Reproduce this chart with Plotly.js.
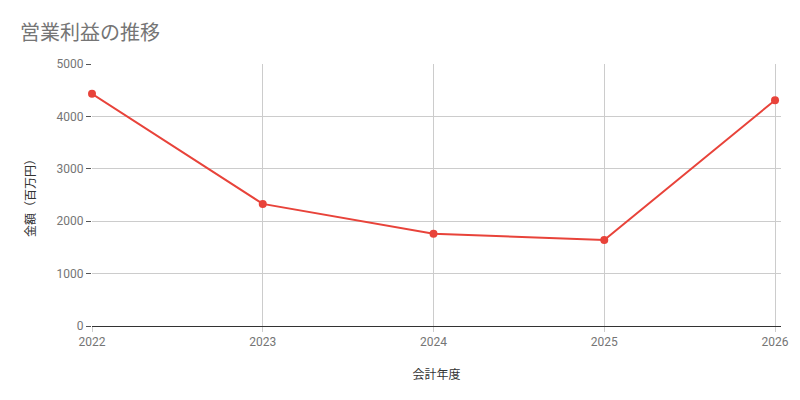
<!DOCTYPE html>
<html>
<head>
<meta charset="utf-8">
<script src="https://cdn.plot.ly/plotly-3.0.1.min.js"></script>
<style>
  html, body { margin: 0; padding: 0; background: #fff; }
  #chart { width: 800px; height: 400px; }
</style>
</head>
<body>
<div id="chart"></div>
<script>
var years = [2022, 2023, 2024, 2025, 2026];
var profit = [4430, 2330, 1760, 1640, 4310];
var yTicks = [0, 1000, 2000, 3000, 4000, 5000];

var trace = {
  x: years,
  y: profit,
  type: 'scatter',
  mode: 'lines+markers',
  cliponaxis: false,
  line: {color: '#e8433a', width: 2},
  marker: {color: '#e8433a', size: 8},
  hoverinfo: 'x+y'
};

var layout = {
  width: 800,
  height: 400,
  margin: {l: 92, r: 19, t: 64, b: 74},
  paper_bgcolor: '#fff',
  plot_bgcolor: '#fff',
  font: {family: 'Roboto, "Noto Sans CJK JP", sans-serif', size: 12, color: '#757575'},
  title: {
    text: '営業利益の推移',
    font: {family: '"Noto Sans CJK JP", sans-serif', size: 20, color: '#757575'},
    x: 0.025, xanchor: 'left', y: 0.918, yanchor: 'middle'
  },
  showlegend: false,
  xaxis: {
    range: [2022, 2026.035],
    tickvals: years,
    ticktext: years.map(String),
    showgrid: true,
    gridcolor: '#cccccc',
    zeroline: false,
    showline: false,
    ticks: 'outside',
    ticklen: 5,
    tickcolor: '#cccccc',
    tickfont: {size: 12, color: '#757575'},
    title: {text: '会計年度', font: {size: 12, color: '#333333'}, standoff: 22}
  },
  yaxis: {
    range: [0, 5000],
    tickvals: yTicks,
    showgrid: true,
    gridcolor: '#cccccc',
    zeroline: true,
    zerolinecolor: '#333333',
    zerolinewidth: 1,
    showline: false,
    ticks: 'outside',
    ticklen: 5,
    tickcolor: '#555555',
    tickfont: {size: 12, color: '#757575'},
    title: {text: '金額（百万円）', font: {size: 12, color: '#333333'}, standoff: 18}
  }
};

Plotly.newPlot('chart', [trace], layout, {displayModeBar: false});
</script>
</body>
</html>
